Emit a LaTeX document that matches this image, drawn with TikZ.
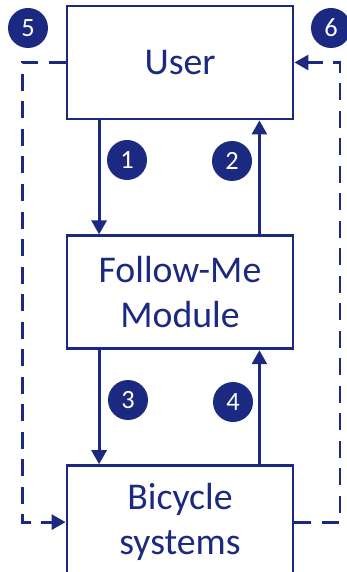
\documentclass[tikz,border=0pt]{standalone}
\usepackage{fontspec}
\setmainfont{Carlito}
\usetikzlibrary{arrows.meta,positioning}
\definecolor{navy}{RGB}{28,41,128}
\tikzset{%
	block/.style    = {draw=navy, line width=1.6pt, rectangle, minimum width=4.52cm, minimum height=2.26cm, text=navy, align=center, font=\fontsize{21.5}{25.6}\selectfont},
	badge/.style    = {circle, fill=navy, text=white, minimum size=0.8cm, inner sep=0pt, font=\fontsize{15}{18}\selectfont}, % step number
	link/.style     = {draw=navy, line width=1.6pt, -{Triangle[length=0.28cm,width=0.3cm]}},
	dashlink/.style = {link, dash pattern=on 0.34cm off 0.21cm}, % side loops
}

\begin{document}
\begin{tikzpicture}[node distance=2.28cm]
	\useasboundingbox (0,0) rectangle (6.94,-11.44);
	\node [block] (user) at (3.6,-1.25) {User};
	\node [block, below=of user] (follow) {Follow-Me\\Module};
	\node [block, below=of follow] (bike) {Bicycle\\systems};
	\coordinate [left=0.87cm of user.west] (lturn);
	\coordinate [right=0.91cm of user.east] (rturn);
	
	\draw[link] ([xshift=0.67cm]user.south west) -- ([xshift=0.67cm]follow.north west);
	\draw[link] ([xshift=-0.7cm]follow.north east) -- ([xshift=-0.7cm]user.south east);
	\draw[link] ([xshift=0.67cm]follow.south west) -- ([xshift=0.67cm]bike.north west);
	\draw[link] ([xshift=-0.7cm]bike.north east) -- ([xshift=-0.7cm]follow.south east);
	\draw[dashlink] (user.west) -- (lturn) |- (bike.west);
	\draw[dashlink] (bike.east) -| (rturn) -- (user.east);
	
	\node [badge] (n1) at (2.54,-3.2) {1};
	\node [badge] (n2) at (4.64,-3.22) {2};
	\node [badge] (n3) at (2.56,-8.0) {3};
	\node [badge] (n4) at (4.66,-8.04) {4};
	\node [badge] (n5) at (0.56,-0.56) {5};
	\node [badge] (n6) at (6.62,-0.56) {6};
\end{tikzpicture}
\end{document}
